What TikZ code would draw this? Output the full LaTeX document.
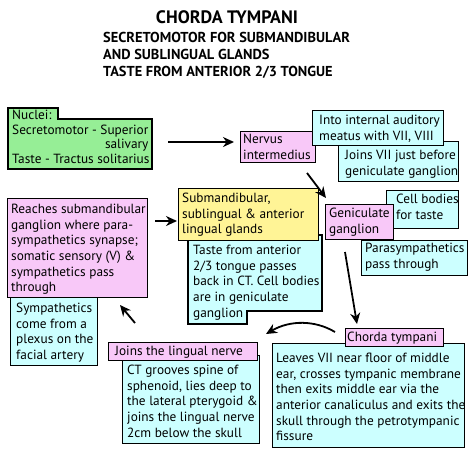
\documentclass[tikz,border=0pt]{standalone}
\usepackage{fontspec}
\setmainfont{PT Sans}
\usetikzlibrary{arrows.meta}
\definecolor{pinkbox}{RGB}{248,200,248}
\definecolor{cyanbox}{RGB}{204,255,255}
\definecolor{yellowbox}{RGB}{255,244,150}
\definecolor{greenbox}{RGB}{150,238,150}
\begin{document}
\begin{tikzpicture}[x=1pt,y=-1pt,
  box/.style={draw=black, line width=1.2pt, inner sep=0pt, anchor=north west},
  boxline/.style={draw=black, line width=1.2pt},
  txt/.style={inner sep=0pt, anchor=north west, align=left, font=\fontsize{13.3}{15.6}\selectfont},
  arr/.style={line width=1.8pt, -{Stealth[length=11pt,width=10pt]}}]
\useasboundingbox[fill=white] (0,0) rectangle (474,464);

% title
\node[anchor=base, inner sep=0pt, font=\fontsize{18}{20}\selectfont\bfseries] (title) at (227,23) {CHORDA TYMPANI};
\node[anchor=north west, inner sep=0pt, align=left, font=\fontsize{14.4}{17}\selectfont\bfseries] (sub) at (103,32)
  {SECRETOMOTOR FOR SUBMANDIBULAR\\AND SUBLINGUAL GLANDS\\TASTE FROM ANTERIOR 2/3 TONGUE};

% nuclei (tab shape)
\path[boxline, fill=greenbox] (8,108) -- (58,108) -- (58,119) -- (152,119) -- (152,169) -- (8,169) -- cycle;
\node[txt, font=\fontsize{13.3}{14.6}\selectfont] (nuclei) at (12,110)
  {Nuclei:\\Secretomotor - Superior\\\hspace*{\fill}salivary\\Taste - Tractus solitarius};

% nervus intermedius
\node[box, fill=pinkbox, minimum width=75pt, minimum height=31pt] (nib) at (240,131) {};
\node[txt] (ni) at (243,134) {Nervus\\intermedius};

% joins VII / into
\node[box, fill=cyanbox, minimum width=120pt, minimum height=40pt] (jvb) at (338,141) {};
\node[txt] (jv) at (345,150) {Joins VII just before\\geniculate ganglion};
\node[box, fill=cyanbox, minimum width=131pt, minimum height=35pt] (intob) at (312,110) {};
\node[txt] (into) at (319,115) {Into internal auditory\\meatus with VII, VIII};

% geniculate group
\node[box, fill=cyanbox, minimum width=72pt, minimum height=38pt] (cbb) at (386,190) {};
\node[txt] (cb) at (396,194) {Cell bodies\\for taste};
\node[box, fill=cyanbox, minimum width=106pt, minimum height=35pt] (psb) at (361,240) {};
\node[txt] (ps) at (365,243) {Parasympathetics\\pass through};
\node[box, fill=pinkbox, minimum width=68pt, minimum height=35pt] (ggb) at (325,204) {};
\node[txt] (gg) at (329,208) {Geniculate\\ganglion};

% taste (tab at bottom-left) and submandibular
\path[boxline, fill=cyanbox] (188,235) -- (322,235) -- (322,311) -- (247,311) -- (247,324) -- (188,324) -- cycle;
\node[txt] (taste) at (193,245) {Taste from anterior\\2/3 tongue passes\\back in CT. Cell bodies\\are in geniculate\\ganglion};
\node[box, fill=yellowbox, minimum width=140pt, minimum height=52pt] (smb) at (178,188) {};
\node[txt] (sm) at (182,193) {Submandibular,\\sublingual \& anterior\\lingual glands};

% reaches / sympathetics
\node[box, fill=cyanbox, minimum width=87pt, minimum height=70pt] (syb) at (10,295) {};
\node[txt] (sy) at (16,303) {Sympathetics\\come from a\\plexus on the\\facial artery};
\node[box, fill=pinkbox, minimum width=140pt, minimum height=99pt] (rsb) at (7,198) {};
\node[txt] (rs) at (11,204) {Reaches submandibular\\ganglion where para-\\sympathetics synapse;\\somatic sensory (V) \&\\sympathetics pass\\through};

% lingual nerve / CT grooves
\node[box, fill=cyanbox, minimum width=137pt, minimum height=88pt] (ctb) at (122,355) {};
\node[txt] (ct) at (127,365) {CT grooves spine of\\sphenoid, lies deep to\\the lateral pterygoid \&\\joins the lingual nerve\\2cm below the skull};
\node[box, fill=pinkbox, minimum width=149pt, minimum height=18pt] (jlb) at (108,342) {};
\node[txt] (jl) at (115,346) {Joins the lingual nerve};

% chorda tympani / leaves
\node[box, fill=cyanbox, minimum width=192pt, minimum height=104pt] (lvb) at (272,343) {};
\node[txt] (lv) at (276,353) {Leaves VII near floor of middle\\ear, crosses tympanic membrane\\then exits middle ear via the\\anterior canaliculus and exits the\\skull through the petrotympanic\\fissure};
\node[box, fill=pinkbox, minimum width=98pt, minimum height=18pt] (chb) at (345,328) {};
\node[txt] (ch) at (347,332) {Chorda tympani};

% arrows
\coordinate (a1s) at (168,142); \coordinate (a1e) at (234,142);
\draw[arr] (a1s) -- (a1e);
\coordinate (a2s) at (307,173); \coordinate (a2e) at (326,198);
\draw[arr] (a2s) -- (a2e);
\coordinate (a3s) at (345,252); \coordinate (a3e) at (357,324);
\draw[arr] (a3s) -- (a3e);
\coordinate (a4s) at (335,332); \coordinate (a4e) at (266,334);
\draw[arr] (a4s) .. controls (315,320) and (290,320) .. (a4e);
\coordinate (a5s) at (135,323); \coordinate (a5e) at (120,305);
\draw[arr] (a5s) -- (a5e);
\coordinate (a6s) at (155,221); \coordinate (a6e) at (177,221);
\draw[arr] (a6s) -- (a6e);
\end{tikzpicture}
\end{document}
